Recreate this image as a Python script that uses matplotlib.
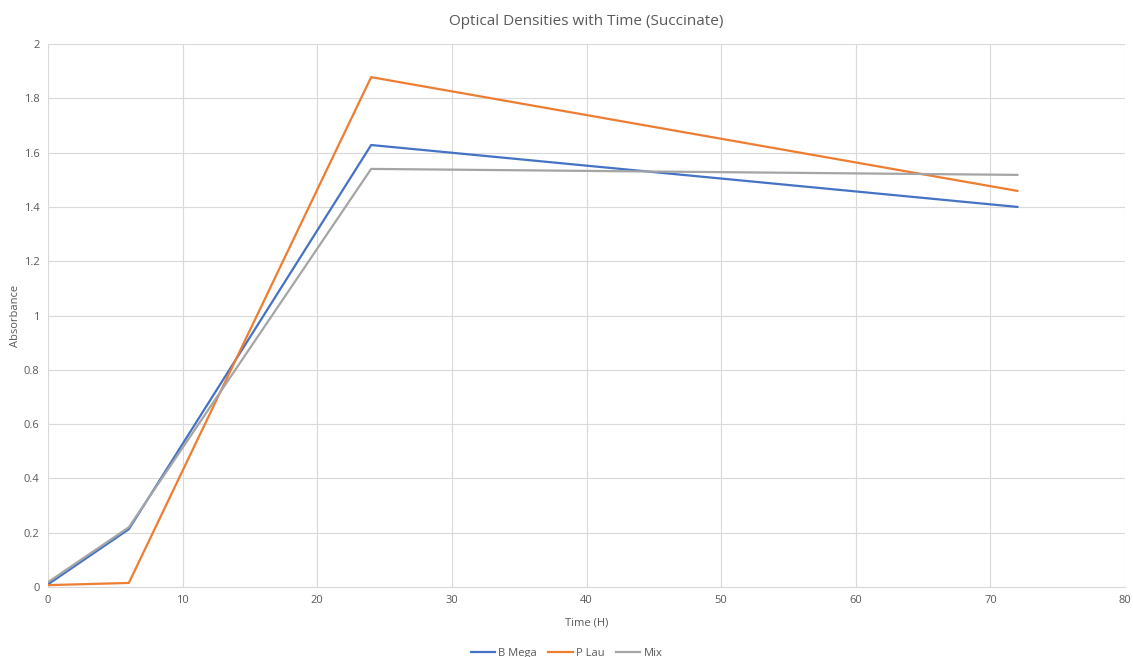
import matplotlib.pyplot as plt

time_h = [0, 6, 24, 72]
b_mega = [0.01, 0.213, 1.628, 1.40]
p_lau = [0.007, 0.015, 1.878, 1.459]
mix = [0.018, 0.22, 1.54, 1.518]

plt.rcParams['font.family'] = ['Open Sans', 'DejaVu Sans']

fig = plt.figure(figsize=(11.33, 6.57), dpi=100)
ax = fig.add_axes([0.0424, 0.1065, 0.9506, 0.8265])

ax.plot(time_h, b_mega, color='#4472C4', lw=1.6, label='B Mega')
ax.plot(time_h, p_lau, color='#ED7D31', lw=1.6, label='P Lau')
ax.plot(time_h, mix, color='#A5A5A5', lw=1.6, label='Mix')

ax.set_xlim(0, 80)
ax.set_ylim(0, 2)
ax.set_xticks(range(0, 81, 10))
ax.set_yticks([0, 0.2, 0.4, 0.6, 0.8, 1, 1.2, 1.4, 1.6, 1.8, 2])
ax.set_yticklabels(['0', '0.2', '0.4', '0.6', '0.8', '1', '1.2', '1.4', '1.6', '1.8', '2'])
ax.grid(True, color='#D9D9D9', lw=0.8)
ax.set_axisbelow(True)
for s in ['top', 'right', 'left']:
    ax.spines[s].set_visible(False)
ax.spines['bottom'].set_color('#D9D9D9')
ax.tick_params(length=0, labelsize=8, colors='#595959', pad=6)

ax.set_xlabel('Time (H)', fontsize=8, color='#595959', labelpad=8)
ax.set_ylabel('Absorbance', fontsize=8, color='#595959', labelpad=2)
ax.set_title('Optical Densities with Time (Succinate)', fontsize=11, color='#595959', pad=14)

fig.legend(loc='lower center', ncol=3, frameon=False, fontsize=8,
           labelcolor='#595959', bbox_to_anchor=(0.5, -0.018),
           handlelength=2.2, columnspacing=1.0, handletextpad=0.3)

fig.savefig('out.png', dpi=100)
